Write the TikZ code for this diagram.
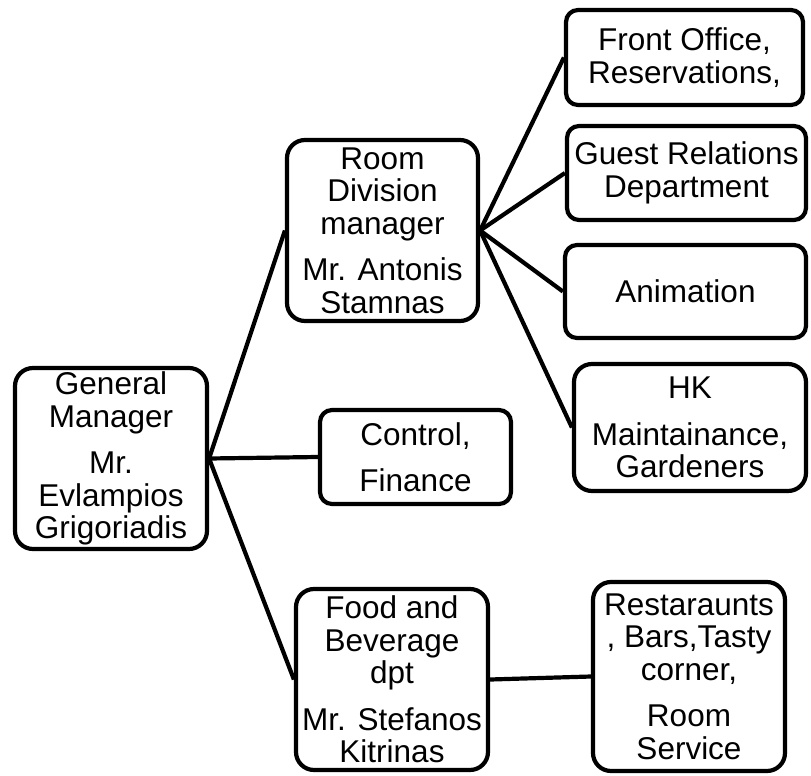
\documentclass[tikz,border=0pt]{standalone}
\usepackage{fontspec}
\setmainfont{Liberation Sans}
\usetikzlibrary{positioning}

\begin{document}
\begin{tikzpicture}[x=1pt,y=-1pt,
    box/.style={draw,line width=4.2pt,rounded corners=18pt,align=center,
      inner sep=0pt,font=\fontsize{31.5}{32.5}\selectfont},
    smallbox/.style={box,rounded corners=12pt},
    link/.style={line width=4.2pt}]
  \useasboundingbox (0,0) rectangle (811,776);
  % left column
  \node[box,minimum width=192,minimum height=181] (gm) at (111,458.5)
    {General\\Manager\\[14pt]Mr.\\Evlampios\\Grigoriadis};
  % middle column
  \node[box,minimum width=191,minimum height=181] (rd) at (382.5,230.5)
    {Room\\Division\\manager\\[14pt]Mr. Antonis\\Stamnas};
  \node[smallbox,minimum width=191,minimum height=94] (cf) at (415.5,457)
    {Control,\\[14pt]Finance};
  \node[box,minimum width=192,minimum height=181] (fb) at (392,679.5)
    {Food and\\Beverage\\dpt\\[14pt]Mr. Stefanos\\Kitrinas};
  % right column
  \node[smallbox,minimum width=237,minimum height=95] (fo) at (684.5,57.5)
    {Front Office,\\Reservations,};
  \node[smallbox,minimum width=239,minimum height=94] (gr) at (686.5,173)
    {Guest Relations\\Department};
  \node[smallbox,minimum width=241,minimum height=93] (an) at (685.5,291.5)
    {Animation};
  \node[box,minimum width=232,minimum height=127] (hk) at (690,427.5)
    {HK\\[14pt]Maintainance,\\Gardeners};
  \node[box,minimum width=192,minimum height=189] (rs) at (689,676.5)
    {Restaraunts\\, Bars,Tasty\\corner,\\[14pt]Room\\Service};
  % connectors
  \foreach \t in {rd,cf,fb}
    \draw[link] (gm.east) -- (\t.west);
  \foreach \t in {fo,gr,an,hk}
    \draw[link] (rd.east) -- (\t.west);
  \draw[link] (fb.east) -- (rs.west);
\end{tikzpicture}
\end{document}
